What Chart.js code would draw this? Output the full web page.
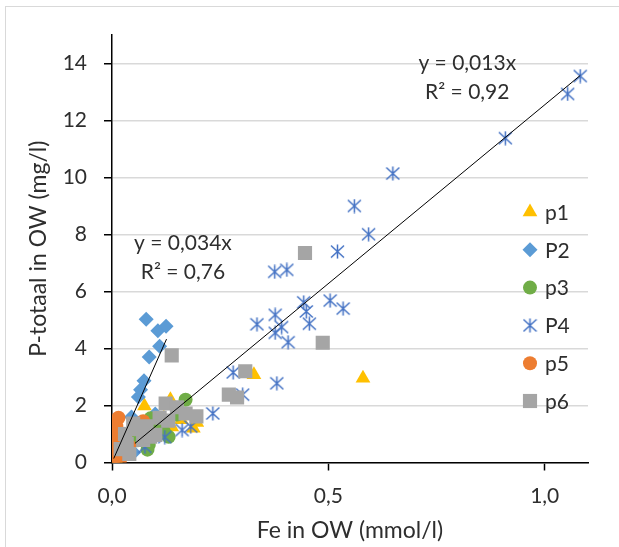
<!DOCTYPE html>
<html>
<head>
<meta charset="utf-8">
<script src="https://cdn.jsdelivr.net/npm/chart.js@4.4.0/dist/chart.umd.min.js"></script>
<style>
  html, body { margin: 0; padding: 0; background: #fff; }
  #wrap { position: relative; width: 619px; height: 547px; }
</style>
</head>
<body>
<div id="wrap"><canvas id="chart" width="619" height="547"></canvas></div>
<script>
// Fe in OW (mmol/l) vs P-totaal in OW (mg/l): [x, y]
const p1 = [[0.580, 2.96], [0.328, 3.08], [0.075, 1.98], [0.135, 2.20], [0.196, 1.40], [0.188, 1.20],
            [0.138, 1.25], [0.160, 1.50], [0.110, 1.35], [0.050, 0.85], [0.020, 0.35], [0.010, 0.08],
            [0.090, 0.95], [0.120, 1.55]];
const p2 = [[0.079, 5.03], [0.106, 4.62], [0.125, 4.78], [0.110, 4.08], [0.086, 3.70], [0.074, 2.87],
            [0.066, 2.55], [0.061, 2.30], [0.045, 1.60], [0.030, 1.00], [0.015, 0.50], [0.008, 0.20],
            [0.100, 1.70], [0.050, 0.35]];
const p3 = [[0.170, 2.20], [0.089, 1.55], [0.131, 0.90], [0.082, 0.45], [0.085, 0.62], [0.100, 1.28],
            [0.060, 0.78], [0.120, 1.08], [0.030, 0.38], [0.150, 1.68]];
const p4 = [[1.082, 13.56], [1.053, 12.93], [0.909, 11.38], [0.649, 10.14], [0.560, 9.00], [0.593, 8.01],
            [0.521, 7.40], [0.376, 6.69], [0.404, 6.76], [0.377, 5.18], [0.335, 4.85], [0.377, 4.55],
            [0.392, 4.75], [0.407, 4.22], [0.443, 5.62], [0.449, 5.30], [0.456, 4.87], [0.504, 5.68],
            [0.534, 5.40], [0.381, 2.78], [0.280, 3.16], [0.302, 2.38], [0.233, 1.72], [0.162, 1.14],
            [0.182, 1.26], [0.122, 0.89], [0.076, 0.55]];
const p5 = [[0.015, 1.57], [0.010, 1.27], [0.007, 0.97], [0.072, 1.45], [0.003, 0.52], [0.004, 0.12],
            [0.020, 0.67], [0.030, 0.37], [0.012, 0.27], [0.025, 0.87], [0.005, 0.37], [0.040, 0.57],
            [0.008, 0.22], [0.018, 0.05]];
const p6 = [[0.446, 7.35], [0.487, 4.20], [0.138, 3.76], [0.308, 3.20], [0.270, 2.38], [0.289, 2.28],
            [0.124, 2.07], [0.150, 1.94], [0.170, 1.72], [0.195, 1.62], [0.049, 1.37], [0.072, 0.79],
            [0.088, 0.91], [0.034, 0.65], [0.100, 0.97], [0.060, 1.17], [0.020, 0.47], [0.110, 1.57],
            [0.080, 1.27], [0.130, 1.47], [0.040, 0.30], [0.030, 1.00]];

// trendline end points
const trendSteep = [[0.004, 0.14], [0.126, 4.33]];
const trendFlat = [[0.053, 0.67], [1.082, 13.58]];

const seriesNames = ['p1', 'P2', 'p3', 'P4', 'p5', 'p6'];
const xTicks = [0, 0.5, 1.0];
const yTicks = [0, 2, 4, 6, 8, 10, 12, 14];

// labels of the trendlines: [text, x, y]
const trendLabels = [
    ['y = 0,013x', 0.821, 14.0],
    ['R\u00B2 = 0,92', 0.821, 12.98],
    ['y = 0,034x', 0.164, 7.7],
    ['R\u00B2 = 0,76', 0.164, 6.68],
];

const FONT = 'Lato';
const TEXT = '#2e2e2e';

function pts(arr) {
    return arr.map(p => ({ x: p[0], y: p[1] }));
}

// Excel style star: vertical bar plus an X
function makeStar(size, color) {
    let c = document.createElement('canvas');
    c.width = size;
    c.height = size;
    let g = c.getContext('2d');
    g.strokeStyle = color;
    g.lineWidth = 1.5;
    g.beginPath();
    g.moveTo(size / 2, 0.5);
    g.lineTo(size / 2, size - 0.5);
    g.moveTo(1, 1.5);
    g.lineTo(size - 1, size - 1.5);
    g.moveTo(size - 1, 1.5);
    g.lineTo(1, size - 1.5);
    g.stroke();
    return c;
}

const star = makeStar(15, '#4472C4');

let datasets = [
    { label: seriesNames[0], data: pts(p1), pointStyle: 'triangle', pointRadius: 8.5, backgroundColor: '#FFC000', order: 6 },
    { label: seriesNames[1], data: pts(p2), pointStyle: 'rectRot', pointRadius: 7.5, backgroundColor: '#5B9BD5', order: 5 },
    { label: seriesNames[2], data: pts(p3), pointStyle: 'circle', pointRadius: 7, backgroundColor: '#70AD47', order: 4 },
    { label: seriesNames[3], data: pts(p4), pointStyle: star, pointRadius: 7.5, backgroundColor: '#4472C4', order: 3 },
    { label: seriesNames[4], data: pts(p5), pointStyle: 'circle', pointRadius: 7, backgroundColor: '#ED7D31', order: 2 },
    { label: seriesNames[5], data: pts(p6), pointStyle: 'rect', pointRadius: 10, backgroundColor: '#A5A5A5', order: 1 },
];
datasets.forEach(d => {
    d.borderWidth = 0;
    d.borderColor = d.backgroundColor;
    d.pointHoverRadius = d.pointRadius;
});

datasets.push({ label: 'trend', data: pts(trendSteep), showLine: true, pointRadius: 0, borderColor: '#000', borderWidth: 1, order: 0 });
datasets.push({ label: 'trend', data: pts(trendFlat), showLine: true, pointRadius: 0, borderColor: '#000', borderWidth: 1, order: 0 });

// light grey frame of the chart object
const framePlugin = {
    id: 'frame',
    beforeDraw(chart) {
        let ctx = chart.ctx;
        ctx.save();
        ctx.fillStyle = '#fff';
        ctx.fillRect(0, 0, chart.width, chart.height);
        ctx.strokeStyle = '#d9d9d9';
        ctx.lineWidth = 1;
        ctx.strokeRect(5.5, 6.5, 700, 700);
        ctx.restore();
    },
};

// equation labels near the trendlines
const trendLabelPlugin = {
    id: 'trendLabels',
    afterDatasetsDraw(chart) {
        let ctx = chart.ctx;
        let xs = chart.scales.x, ys = chart.scales.y;
        ctx.save();
        ctx.font = '21px ' + FONT;
        ctx.fillStyle = TEXT;
        ctx.textAlign = 'center';
        ctx.textBaseline = 'middle';
        trendLabels.forEach(t => {
            ctx.fillText(t[0], xs.getPixelForValue(t[1]), ys.getPixelForValue(t[2]));
        });
        ctx.restore();
    },
};

// legend sitting inside the plot on the right, like Excel
const sideLegendPlugin = {
    id: 'sideLegend',
    afterDraw(chart) {
        let ctx = chart.ctx;
        let area = chart.chartArea;
        let x = area.right - 58;
        let y = 212;
        ctx.save();
        ctx.font = '21px ' + FONT;
        ctx.textAlign = 'left';
        ctx.textBaseline = 'middle';
        chart.data.datasets.forEach(d => {
            if (d.label === 'trend') return;
            ctx.fillStyle = d.backgroundColor;
            ctx.strokeStyle = d.backgroundColor;
            Chart.helpers.drawPoint(ctx, { pointStyle: d.pointStyle, radius: d.pointRadius, rotation: 0, borderWidth: 0 }, x, y);
            ctx.fillStyle = TEXT;
            ctx.fillText(d.label, x + 15, y + 1);
            y += 37.8;
        });
        ctx.restore();
    },
};

new Chart(document.getElementById('chart'), {
    type: 'scatter',
    data: { datasets: datasets },
    plugins: [framePlugin, trendLabelPlugin, sideLegendPlugin],
    options: {
        responsive: false,
        devicePixelRatio: 1,
        animation: false,
        layout: { padding: { left: 0, right: 31, top: 35, bottom: 0 } },
        plugins: {
            legend: { display: false },
            tooltip: { enabled: false },
        },
        scales: {
            x: {
                type: 'linear',
                min: 0,
                max: 1.1,
                afterBuildTicks: s => { s.ticks = xTicks.map(v => ({ value: v })); },
                afterFit: s => { s.height = 84.5; },
                ticks: {
                    padding: 13,
                    color: TEXT,
                    font: { family: FONT, size: 21 },
                    callback: v => v.toFixed(1).replace('.', ','),
                },
                grid: { drawOnChartArea: false, tickLength: 8, tickColor: '#000', tickWidth: 1.5 },
                border: { color: '#000', width: 1.5 },
                title: {
                    display: true,
                    text: 'Fe in OW (mmol/l)',
                    color: TEXT,
                    font: { family: FONT, size: 23 },
                    padding: { top: 0, bottom: 3 },
                },
            },
            y: {
                type: 'linear',
                min: 0,
                max: 15,
                afterBuildTicks: s => { s.ticks = yTicks.map(v => ({ value: v })); },
                afterFit: s => { s.width = 112; },
                ticks: {
                    padding: 17,
                    color: TEXT,
                    font: { family: FONT, size: 21 },
                },
                grid: { color: '#d9d9d9', lineWidth: 1.5, tickLength: 8, tickColor: '#000', tickWidth: 1.5 },
                border: { color: '#000', width: 1.5 },
                title: {
                    display: true,
                    text: 'P-totaal in OW (mg/l)',
                    color: TEXT,
                    font: { family: FONT, size: 23 },
                    padding: { top: 25, bottom: 0 },
                },
            },
        },
    },
});
</script>
</body>
</html>
